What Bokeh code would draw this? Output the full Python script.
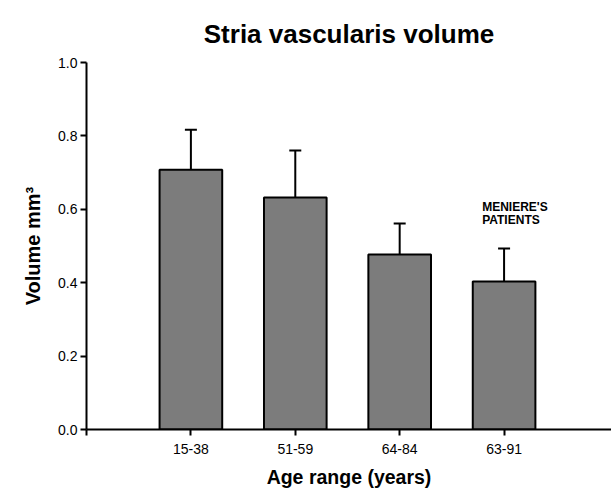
from bokeh.plotting import figure
from bokeh.models import (ColumnDataSource, Range1d, FixedTicker, Whisker,
                          TeeHead, Label)
from bokeh.embed import file_html
from bokeh.resources import INLINE

# ---- data ----
categories = ["15-38", "51-59", "64-84", "63-91"]
volume = [0.708, 0.632, 0.477, 0.403]
sd = [0.109, 0.128, 0.084, 0.090]
y_ticks = [0.0, 0.2, 0.4, 0.6, 0.8, 1.0]
y_tick_labels = ["0.0", "0.2", "0.4", "0.6", "0.8", "1.0"]
title_text = "Stria vascularis volume"
note_lines = ["MENIERE'S", "PATIENTS"]
x_label = "Age range (years)"
y_label = "Volume mm\u00b3"

FONT = "Liberation Sans"

xs = list(range(1, len(categories) + 1))
src = ColumnDataSource(dict(
    x=xs,
    top=volume,
    upper=[v + e for v, e in zip(volume, sd)],
))

p = figure(width=611, height=493, output_backend="svg", toolbar_location=None,
           x_range=Range1d(0, 5.029), y_range=Range1d(0, 1.0),
           min_border_left=86, min_border_right=0,
           min_border_top=62, min_border_bottom=64)
p.outline_line_color = None
p.grid.visible = False
p.background_fill_color = "white"
p.border_fill_color = "white"

# title
p.title.text = title_text
p.title.align = "center"
p.title.offset = 8
p.title.standoff = 27
p.title.text_font = FONT
p.title.text_font_style = "bold"
p.title.text_font_size = "26px"
p.title.text_color = "black"

# error bars (upper only)
wh = Whisker(source=src, base="x", lower="top", upper="upper",
             line_color="black", line_width=2,
             upper_head=TeeHead(size=12, line_width=2, line_color="black"),
             lower_head=None)
p.add_layout(wh)

p.vbar(x="x", top="top", width=0.6, bottom=0, source=src,
       fill_color="#7c7c7c", line_color="black", line_width=2)

# x axis
xa = p.xaxis[0]
xa.ticker = FixedTicker(ticks=[0] + xs)
xa.major_label_overrides = {0: ""} | {x: c for x, c in zip(xs, categories)}
xa.minor_tick_line_color = None
xa.major_tick_out = 6
xa.major_tick_in = 0
xa.axis_line_width = 2
xa.major_tick_line_width = 2
xa.major_label_text_font = FONT
xa.major_label_text_font_size = "14px"
xa.major_label_text_color = "black"
xa.major_label_standoff = 8
xa.axis_label = x_label
xa.axis_label_text_font = FONT
xa.axis_label_text_font_style = "bold"
xa.axis_label_text_font_size = "19.5px"
xa.axis_label_text_color = "black"
xa.axis_label_standoff = 9

# y axis
ya = p.yaxis[0]
ya.ticker = FixedTicker(ticks=y_ticks)
ya.major_label_overrides = {t: l for t, l in zip(y_ticks, y_tick_labels)}
ya.minor_tick_line_color = None
ya.major_tick_out = 6
ya.major_tick_in = 0
ya.axis_line_width = 2
ya.major_tick_line_width = 2
ya.major_label_text_font = FONT
ya.major_label_text_font_size = "14px"
ya.major_label_text_color = "black"
ya.major_label_standoff = 3
ya.axis_label = y_label
ya.axis_label_text_font = FONT
ya.axis_label_text_font_style = "bold"
ya.axis_label_text_font_size = "20px"
ya.axis_label_text_color = "black"
ya.axis_label_standoff = 11

# annotation
p.add_layout(Label(x=3.79, y=0.6076, text=note_lines[0], text_align="left",
                   text_baseline="alphabetic", text_font=FONT,
                   text_font_style="bold", text_font_size="12px",
                   text_color="black"))
p.add_layout(Label(x=3.79, y=0.5714, text=note_lines[1], text_align="left",
                   text_baseline="alphabetic", text_font=FONT,
                   text_font_style="bold", text_font_size="12px",
                   text_color="black"))

open("out.html", "w").write(file_html(p, INLINE))
